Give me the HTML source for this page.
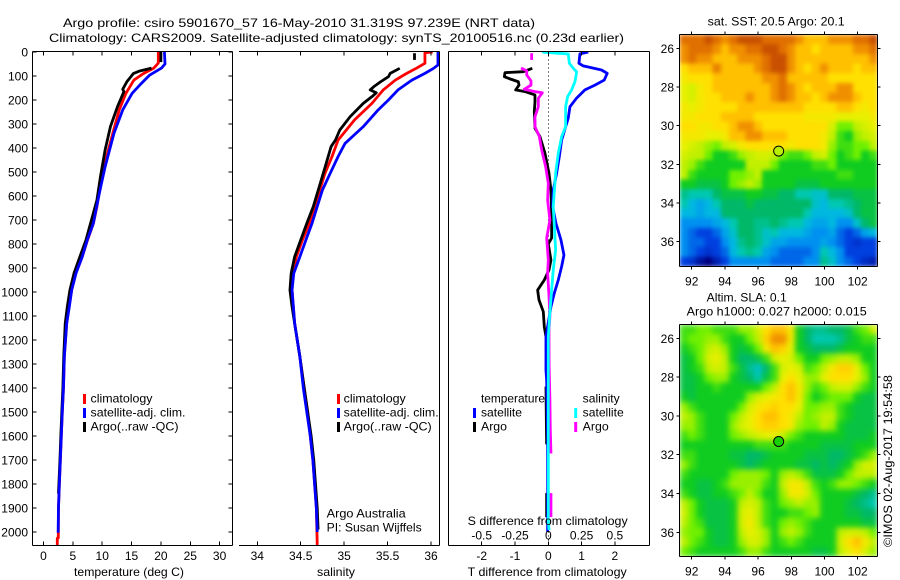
<!DOCTYPE html>
<html>
<head>
<meta charset="utf-8">
<title>Argo profile</title>
<style>
html,body{margin:0;padding:0;background:#fff;}
svg{display:block;}
text{font-family:"Liberation Sans",sans-serif;font-size:12px;fill:#000;}
</style>
</head>
<body>
<svg id="chart" xmlns="http://www.w3.org/2000/svg" width="900" height="580" viewBox="0 0 900 580"></svg>
<script>
const depthTicks = [0,100,200,300,400,500,600,700,800,900,1000,1100,1200,1300,1400,1500,1600,1700,1800,1900,2000];
const tempTicks = [0,5,10,15,20,25,30];
const salTicks = [34,34.5,35,35.5,36];
const salTickLabels = ['34','34.5','35','35.5','36'];
const tDiffTicks = [-2,-1,0,1,2];
const sDiffTicks = [-0.5,-0.25,0,0.25,0.5];
const sDiffTickLabels = ['-0.5','-0.25','0','0.25','0.5'];
const lonTicks = [92,94,96,98,100,102];
const latTicks = [26,28,30,32,34,36];

const tempClimDepth = [0,46,67,90,117,172,241,339,478,575,644,714,783,853,922,992,1061,1131,1269,1400,1500,1600,1700,1800,1900,2025,2026,2054];
const tempClimValue = [19.56,19.56,18.8,17,15.4,14.05,12.9,11.8,10.3,9.55,9.1,8.5,7.5,6.6,5.5,4.8,4.35,3.95,3.55,3.4,3.2,3.03,2.87,2.7,2.55,2.52,2.35,2.35];
const tempSatDepth = [0,50,67,96,130,172,241,339,478,575,644,714,783,853,922,992,1061,1131,1269,1400,1500,1600,1700,1800,1900,2003];
const tempSatValue = [20.6,20.7,20.1,18.1,16.7,15.1,13.5,12,10.5,9.63,9.06,8.49,7.46,6.6,5.54,4.8,4.4,3.95,3.55,3.4,3.2,3.03,2.87,2.7,2.55,2.5];
const tempArgoDepth = [0,42,null,67,79,90,124,155,165,228,311,408,520,617,783,853,922,992,1061,1131,1269,1400,1500,1600,1700,1840];
const tempArgoValue = [20,20,null,18.4,16.4,15.3,14.2,13.5,13.7,12.6,11.4,10.5,9.7,9.1,7.24,6.2,5.2,4.5,4.06,3.7,3.45,3.3,3.12,2.95,2.8,2.55];

const salClimDepth = [0,3,47,68,89,117,158,214,283,367,436,505,644,714,783,853,922,992,1061,1131,1200,1269,1400,1500,1600,1700,1800,1900,2054];
const salClimValue = [36.02,35.93,35.93,35.83,35.72,35.59,35.45,35.32,35.12,34.93,34.86,34.78,34.66,34.6,34.52,34.45,34.41,34.4,34.415,34.43,34.46,34.49,34.54,34.58,34.61,34.64,34.66,34.68,34.69];
const salSatDepth = [0,54,68,89,117,158,200,242,311,381,436,505,575,644,714,783,853,922,992,1061,1131,1200,1269,1400,1500,1600,1700,1800,1900,2000];
const salSatValue = [36.08,36.08,36.03,35.93,35.78,35.62,35.51,35.39,35.22,35.01,34.93,34.84,34.75,34.69,34.63,34.56,34.49,34.42,34.4,34.415,34.43,34.46,34.49,34.53,34.57,34.61,34.64,34.66,34.68,34.69];
const salArgoDepth = [5,33,null,68,89,103,124,145,158,170,186,214,269,325,367,394,505,644,714,783,853,922,992,1061,1131,1269,1400,1500,1600,1700,1800,1900,1990];
const salArgoValue = [35.81,35.81,null,35.64,35.53,35.51,35.42,35.34,35.3,35.37,35.32,35.22,35.07,34.95,34.9,34.85,34.76,34.645,34.57,34.5,34.43,34.39,34.376,34.4,34.43,34.49,34.54,34.58,34.62,34.65,34.67,34.69,34.7];

const tDiffSatDepth = [0,8,47,58,75,89,117,138,158,192,228,275,367,436,505,575,644,714,783,846,894,950,1005,1061,1186,1325,1367,1600,2000];
const tDiffSatValue = [1.2,0.95,0.92,1.05,1.6,1.77,1.68,1.4,1.1,0.85,0.65,0.6,0.4,0.33,0.25,0.15,0.13,0.23,0.38,0.47,0.4,0.3,0.18,0.08,-0.07,-0.07,-0.05,-0.02,-0.02];
const tDiffArgoDepth = [68,82,86,103,112,124,138,158,165,179,207,249,318,353,422,505,575,672,728,775,800,867,908,950,992,1033,1082,1145,1186,null,1394,1635,null,1838,1938];
const tDiffArgoValue = [-0.48,-0.75,-1.3,-1.32,-1.15,-0.9,-0.88,-0.98,-0.7,-0.4,-0.4,-0.42,-0.4,-0.25,-0.1,0.02,0.08,0.1,0.1,0.1,0,0.08,0.02,-0.12,-0.32,-0.28,-0.15,-0.12,-0.07,null,-0.07,-0.05,null,-0.05,-0.05];
const sDiffSatDepth = [0,1,8,47,68,83,124,158,186,228,311,353,422,505,644,775,825,908,992,1061,1186,1436,1950,1992];
const sDiffSatValue = [-0.037,-0.037,0.15,0.158,0.188,0.213,0.2,0.175,0.145,0.13,0.13,0.1,0.075,0.055,0.037,0.05,0.055,0.037,0.025,0.015,0,0,0,0.005];
const sDiffArgoDepth = [5,33,null,67,78,96,120,138,155,165,170,193,228,270,311,353,408,478,547,617,700,775,867,921,1015,1103,1158,1300,1450,1575,1673,null,1838,1938];
const sDiffArgoValue = [-0.125,-0.125,null,-0.205,-0.162,-0.162,-0.13,-0.13,-0.18,-0.1,-0.045,-0.075,-0.075,-0.1,-0.1,-0.067,-0.05,-0.02,0,-0.005,0.012,-0.012,0,-0.005,0.005,0.012,0.005,0.006,0.012,0.015,0.02,null,0.02,0.02];

const sstRows = [
[13,13,13,14,13,12,13,14,14,14,13,13,13,13,12,11,11,11,12,12,12,13,13,14],
[12,13,13,13,12,11,12,12,13,13,14,14,13,12,11,11,10,11,11,11,11,12,12,13],
[12,13,12,12,11,11,11,12,12,12,13,14,14.5,12,11,11,11,11,11,11,11,11,11,12],
[10,11,11,11,12.5,11,11,11,11,12,13,14,14,12,11,10,11,12,11,11,11,10,11,11],
[9.5,10,10,10,11,11,11,11,11,11,12,12,13,11,11,11,11,11,10,10,10,10,10,10],
[9,8.5,9.5,10,11,11,11,11,11,11,11,12,13,12,11,10,11,11,11,12,12,10,10,10],
[9,8.5,9.5,10,10,11,11,11,12,11,11,12,13,12,11,11,10,11,12,12,12,11,10,10],
[9.5,9,9.5,10,10,10,10,11,11,11,11,11,11,11,11,10,10,10,10,11,11,10,9.5,10],
[9.5,9.5,10,10,10,11,11,11,11,10,10,10,10,10,10,9.5,9.5,9.5,9.5,9,9,9,9,9.5],
[10,10,9.5,9.5,10,10,11,12,12,11,10,10,10,10,10,10,10,10,8.5,7,7,8,8.5,9],
[9.5,9.5,9.5,9,9,9.5,11,11,12,12,11,11,11,10,10,10,10,9.5,8,6.5,6,7.5,8,8.5],
[9,8.5,8,7.5,7,8,8.5,9.5,10,10,10,10,10,9.5,10,10,10,9.5,7.5,6.5,6.5,7,7,8],
[8.5,8,8,7,6,6,6.5,7.5,8,8.5,8.5,8,7,6.5,6.5,7,8,8.5,7,6,6.5,7,6,6.5],
[8,7.5,6.5,6,6,6,6,6,8,8,8,7,6,6,6,6,6.5,6.5,7,6,6,6,6,6],
[8,6.5,6,6,6,6,7,7,7.5,8,6,6,6,6,6,6,6,6,6,6.5,6.5,6,6,6],
[6,6,5.5,5.5,5.5,6,7,7.5,8,7.5,6,6,6,6,5.5,5.5,5.5,6,6,6,6,6,6,6],
[4.5,4,4,4,5,5.5,5.5,5.5,6,6,5.5,5.5,5,5,4,4,3.5,3.5,5,5,5,5.5,5.5,5.5],
[4,3,2.5,3,4,5,5,5,5.5,5,5,5,5,5,5,5,3.5,3,4,4,4.5,5,5.5,5.5],
[3,3,2.5,3,3,5,5,5,5,5,5,5,5,5,5,4,3,3,3,3,3.5,5,5.5,5.5],
[2,2,2,2,2.5,3,4,5,5,4.5,4.5,5,4.5,4,4,3,2.5,2.5,3,2,2,3.5,5,5.5],
[2,1.5,1,1,1.5,2.5,3.5,5,5,4.5,3.5,4,3,3,3,2.5,2,2,2.5,1.5,1,1.5,2.5,3],
[2,1.5,1.5,1,1,2,3,4.5,5,4.5,3.5,2.5,2.5,2,2,2,2,2.5,2,1.5,1,0.8,1,1],
[2,1.5,1,0.8,1,1.5,3,4,4.5,4,2.5,2,1.5,1.5,1.5,1.5,2,4,3,2,1,1,1,1],
[1,0.8,0.3,0,0.5,1,2,2,2,2,2,1.5,1.5,1.5,1.5,2,2,4.5,3.5,2,1.5,1,0.7,0.5]
];
const slaRows = [
[6.5,6.5,7,7,6.5,6.5,6.5,7.5,7.5,8.5,10,11,11,9.5,6,5,4.5,4.5,5,5,5.5,6.5,7,8.5],
[6.5,7,7,7.5,7.5,6.5,6,6,7,8,10.5,12,12,9.5,6,5,4,4,4,4.5,5.5,6,6.5,6.5],
[6,6.5,7,8,8.5,7.5,6,5.5,6,7,9.5,11,10.5,9,6,5.5,5,5,5,5.5,6,6,6,6],
[5.5,6,7,8.5,9,8,6,5,5,5.5,6.5,8.5,9,8.5,7,6,6,7,7.5,8,8,7.5,6,6],
[5.5,6,6.5,8,8.5,8,6.5,5.5,4.5,3.5,5,6.5,8.5,9,8.5,6.5,7,8,9.5,10.5,10.5,9,7,6],
[5.5,5.5,6,7,7.5,7.5,6,5.5,5,4,5.5,6.5,9,10,9,7.5,7.5,9,10,10,10,9,7.5,6],
[5.5,5.5,6,6,6.5,6,6,6,6,6,7,8,10,11,9.5,7.5,6.5,7,8,8.5,8.5,7.5,6.5,6],
[6,5.5,6,6,6,6,6,6,7.5,8.5,9,9.5,10,11,9.5,7,6,6.5,7,7,7,6,5.5,5.5],
[7.5,6.5,6,6,6,6,6,7,8.5,9.5,10,10.5,10,10,9,7,7,7.5,7.5,6.5,6,5.5,5.5,5.5],
[8,7.5,6.5,6,6,6,7,8,9,10,11,11,10,9.5,8,7,7.5,8,8,6.5,6,5.5,5.5,5.5],
[7.5,7.5,6.5,6,6,6,7.5,8.5,9,10,10.5,10.5,10,9.5,7.5,7,7,8,7.5,6,5.5,5.5,5.5,5.5],
[6.5,7,6.5,6,6,6,7,7.5,8,8.5,9,9,8,7,6.5,6,6,6,6,6,5.5,5.5,5.5,6],
[6,6,6,6,6,6,6,6,6,6.5,6.5,6.5,6.5,6,6,6,6,5.5,5.5,5.5,5.5,6,6,6],
[6.5,6.5,6,6,6,6,5.5,5.5,5,5,5.5,6,6,6,6,5.5,5.5,5.5,5,5,5.5,6,6.5,7.5],
[7.5,6.5,6,6,6,6,6,5.5,5,5.5,6,6,6,6,5.5,5.5,5,5.5,5,5.5,6,7.5,8.5,8.5],
[6.5,6,6,6,6,6,7,7.5,7.5,7.5,7,6,7.5,8,7.5,6.5,5.5,5.5,5.5,6,7,8,8,8],
[6,6,5.5,5.5,6,6.5,7.5,7.5,7.5,7.5,6.5,6,8,9.5,9.5,8,6.5,6,6.5,7.5,7.5,7,6.5,6],
[6.5,6,5.5,5.5,6,6,6.5,7,8,7,6,6,7.5,9.5,9.5,8.5,7,6,6,6,6,5.5,5,4.5],
[8,7,6,5.5,5.5,5.5,6,8,8.5,8,6.5,6,7,7.5,8,7.5,7.5,6,6,6,5.5,5,4.5,4],
[8.5,7,6,5.5,5.5,5.5,6,8.5,9,8,6.5,6,6,6.5,6.5,7,7.5,6,6,6,5.5,5.5,5,5],
[8,7,6.5,5.5,5.5,5.5,6,8.5,9.5,8,6.5,6,7,7.5,7,6.5,6,6,6,6,6,6,5.5,5.5],
[7.5,7,7,6,5.5,5.5,6,8,9,8.5,7.5,6,7.5,8,7.5,6.5,6,6,6,8,8.5,8.5,8,7],
[8,7,6.5,6,5.5,5.5,6,7.5,8.5,8.5,7.5,6,6.5,7,6.5,6,6,6,6,8.5,10,11,9.5,8],
[7,6.5,6,6,6,6,6,6.5,7.5,7.5,6.5,6,6,6,6,6,5.5,5.5,6,8,9,10,8.5,7.5]
];
const floatLon = 97.239;
const floatLat = 31.319;

const NS = 'http://www.w3.org/2000/svg';
const svg = document.getElementById('chart');
const colormap = ['#000080','#0040e0','#0090f0','#00b8e0','#00c8b0','#00b868','#10cc20','#70f000','#c0f000','#e8f000','#ffe000','#ffc000','#f09000','#e07000','#c85000'];

function mix(v){
  const i = Math.max(0, Math.min(colormap.length-2, Math.floor(v)));
  const f = Math.max(0, Math.min(1, v-i));
  const p = s => [1,3,5].map(k => parseInt(s.substr(k,2),16));
  const a = p(colormap[i]), b = p(colormap[i+1]);
  return 'rgb(' + a.map((c,k) => Math.round(c+(b[k]-c)*f)).join(',') + ')';
}
function make(tag, attrs, parent){
  const el = document.createElementNS(NS, tag);
  for (const k in attrs) el.setAttribute(k, attrs[k]);
  (parent || svg).appendChild(el);
  return el;
}
function group(name){
  const g = make('g', {});
  
  
  return g;
}
function label(parent, name, str, x, y, anchor, width){
  const t = make('text', {x:x, y:y, 'text-anchor':anchor || 'start'}, parent);
  if (width) { t.setAttribute('textLength', width); t.setAttribute('lengthAdjust', 'spacingAndGlyphs'); }
  t.textContent = str;
  
  
  return t;
}
function rule(parent, name, x1, y1, x2, y2){
  const l = make('line', {x1:x1, y1:y1, x2:x2, y2:y2, stroke:'#000', 'stroke-width':1, 'shape-rendering':'crispEdges'}, parent);
  
  
  return l;
}

const top0 = 51.5, bottom0 = 545.5;
const yD = d => 52 + d*0.24;
const xT = v => 43.5 + v*5.87;
const xS = v => 257.3 + (v-34)*86.85;
const xDT = v => 548.3 + v*33.3;
const xDS = v => 548.3 + v*133.2;
const xLon = v => 691.7 + (v-92)*16.6;

const defs = make('defs', {});
[['clip-t',32,52,200,493],['clip-s',239,52,200,493],['clip-d',448,52,201,493]].forEach(c => {
  const cp = make('clipPath', {id:c[0]}, defs);
  make('rect', {x:c[1], y:c[2], width:c[3], height:c[4]}, cp);
});

function profile(parent, name, depths, values, xf, color, clip){
  let pts = [];
  const flush = () => {
    if (pts.length) {
      const pl = make('polyline', {points:pts.join(' '), fill:'none', stroke:color, 'stroke-width':2.8, 'stroke-linejoin':'round', 'clip-path':'url(#'+clip+')'}, parent);
      
      
    }
    pts = [];
  };
  depths.forEach((d,i) => {
    if (d === null || values[i] === null) { flush(); return; }
    pts.push(xf(values[i]).toFixed(2) + ',' + yD(d).toFixed(2));
  });
  flush();
}

/* titles */
const titles = group('figure-title');
label(titles, 'title-line-1', 'Argo profile: csiro 5901670_57 16-May-2010 31.319S 97.239E (NRT data)', 63, 27, 'start', 472);
label(titles, 'title-line-2', 'Climatology: CARS2009. Satellite-adjusted climatology: synTS_20100516.nc (0.23d earlier)', 49, 42, 'start', 575);

/* temperature panel */
const tp = group('temperature-panel');
profile(tp, 'temperature-climatology-line', tempClimDepth, tempClimValue, xT, '#ff0000', 'clip-t');
profile(tp, 'temperature-argo-line', tempArgoDepth, tempArgoValue, xT, '#000000', 'clip-t');
profile(tp, 'temperature-satellite-line', tempSatDepth, tempSatValue, xT, '#0000ff', 'clip-t');
rule(tp, 'temperature-axis-left', 32.5, top0, 32.5, bottom0);
rule(tp, 'temperature-axis-right', 232.5, top0, 232.5, bottom0);
rule(tp, 'temperature-axis-top', 32.5, top0, 232.5, top0);
rule(tp, 'temperature-axis-bottom', 32.5, bottom0, 232.5, bottom0);
depthTicks.forEach(d => {
  rule(tp, 'depth-tick-left', 32.5, yD(d), 36.5, yD(d));
  rule(tp, 'depth-tick-right', 228.5, yD(d), 232.5, yD(d));
  label(tp, 'depth-tick-label', String(d), 28, yD(d)+4.5, 'end');
});
tempTicks.forEach(v => {
  rule(tp, 'temperature-tick-top', xT(v), top0, xT(v), top0+4);
  rule(tp, 'temperature-tick-bottom', xT(v), bottom0-4, xT(v), bottom0);
  label(tp, 'temperature-tick-label', String(v), xT(v), 560, 'middle');
});
label(tp, 'temperature-axis-title', 'temperature (deg C)', 74, 576, 'start', 110);

function legendBar(parent, name, x, y, color){
  const r = make('rect', {x:x-1.5, y:y, width:3, height:10, fill:color}, parent);
  
  
}
const lt = group('temperature-legend');
legendBar(lt, 'legend-swatch-climatology', 84.5, 394, '#ff0000');
legendBar(lt, 'legend-swatch-satellite', 84.5, 408, '#0000ff');
legendBar(lt, 'legend-swatch-argo', 84.5, 422, '#000000');
label(lt, 'legend-label-climatology', 'climatology', 90.5, 402.7, 'start', 62);
label(lt, 'legend-label-satellite', 'satellite-adj. clim.', 90.5, 416.7, 'start', 95);
label(lt, 'legend-label-argo', 'Argo(..raw -QC)', 90.5, 430.7, 'start', 88);

/* salinity panel */
const sp = group('salinity-panel');
profile(sp, 'salinity-climatology-line', salClimDepth, salClimValue, xS, '#ff0000', 'clip-s');
profile(sp, 'salinity-argo-line', salArgoDepth, salArgoValue, xS, '#000000', 'clip-s');
profile(sp, 'salinity-satellite-line', salSatDepth, salSatValue, xS, '#0000ff', 'clip-s');
rule(sp, 'salinity-axis-right', 439.5, top0, 439.5, bottom0);
rule(sp, 'salinity-axis-top', 239, top0, 439.5, top0);
rule(sp, 'salinity-axis-bottom', 239, bottom0, 439.5, bottom0);
salTicks.forEach((v,i) => {
  rule(sp, 'salinity-tick-top', xS(v), top0, xS(v), top0+4);
  rule(sp, 'salinity-tick-bottom', xS(v), bottom0-4, xS(v), bottom0);
  label(sp, 'salinity-tick-label', salTickLabels[i], xS(v), 560, 'middle');
});
label(sp, 'salinity-axis-title', 'salinity', 336, 576, 'middle', 38);
const ls = group('salinity-legend');
legendBar(ls, 'legend-swatch-climatology', 338.5, 394, '#ff0000');
legendBar(ls, 'legend-swatch-satellite', 338.5, 408, '#0000ff');
legendBar(ls, 'legend-swatch-argo', 338.5, 422, '#000000');
label(ls, 'legend-label-climatology', 'climatology', 343.7, 402.7, 'start', 62);
label(ls, 'legend-label-satellite', 'satellite-adj. clim.', 343.7, 416.7, 'start', 95);
label(ls, 'legend-label-argo', 'Argo(..raw -QC)', 343.7, 430.7, 'start', 88);
label(sp, 'argo-australia-note', 'Argo Australia', 326.7, 517.7, 'start', 79);
label(sp, 'principal-investigator-note', 'PI: Susan Wijffels', 326.7, 531.7, 'start', 95);

/* difference panel */
const dp = group('difference-panel');
const zero = make('line', {x1:548.5, y1:top0, x2:548.5, y2:bottom0, stroke:'#000', 'stroke-width':1, 'stroke-dasharray':'1 3', 'shape-rendering':'crispEdges'}, dp);


profile(dp, 'temperature-difference-argo-line', tDiffArgoDepth, tDiffArgoValue, xDT, '#000000', 'clip-d');
profile(dp, 'temperature-difference-satellite-line', tDiffSatDepth, tDiffSatValue, xDT, '#0000ff', 'clip-d');
profile(dp, 'salinity-difference-argo-line', sDiffArgoDepth, sDiffArgoValue, xDS, '#ff00ff', 'clip-d');
profile(dp, 'salinity-difference-satellite-line', sDiffSatDepth, sDiffSatValue, xDS, '#00ffff', 'clip-d');
rule(dp, 'difference-axis-left', 448.5, top0, 448.5, bottom0);
rule(dp, 'difference-axis-right', 649.5, top0, 649.5, bottom0);
rule(dp, 'difference-axis-top', 448.5, top0, 649.5, top0);
rule(dp, 'difference-axis-bottom', 448.5, bottom0, 649.5, bottom0);
tDiffTicks.forEach(v => {
  rule(dp, 'temperature-difference-tick-top', xDT(v), top0, xDT(v), top0+4);
  rule(dp, 'temperature-difference-tick-bottom', xDT(v), bottom0-4, xDT(v), bottom0);
  label(dp, 'temperature-difference-tick-label', String(v), xDT(v), 560, 'middle');
});
sDiffTicks.forEach((v,i) => {
  label(dp, 'salinity-difference-tick-label', sDiffTickLabels[i], xDS(v), 539.3, 'middle');
});
label(dp, 'salinity-difference-axis-title', 'S difference from climatology', 467.7, 525, 'start', 160);
label(dp, 'temperature-difference-axis-title', 'T difference from climatology', 467.7, 576, 'start', 159);
const ld = group('difference-legend');
label(ld, 'legend-heading-temperature', 'temperature', 481, 402.7, 'start', 64);
label(ld, 'legend-heading-salinity', 'salinity', 582.7, 402.7, 'start', 37);
legendBar(ld, 'legend-swatch-temperature-satellite', 474.5, 408, '#0000ff');
legendBar(ld, 'legend-swatch-temperature-argo', 474.5, 422, '#000000');
legendBar(ld, 'legend-swatch-salinity-satellite', 575.7, 408, '#00ffff');
legendBar(ld, 'legend-swatch-salinity-argo', 575.7, 422, '#ff00ff');
label(ld, 'legend-label-temperature-satellite', 'satellite', 481, 416.7, 'start', 41);
label(ld, 'legend-label-temperature-argo', 'Argo', 481, 430.7, 'start', 26);
label(ld, 'legend-label-salinity-satellite', 'satellite', 582.7, 416.7, 'start', 41);
label(ld, 'legend-label-salinity-argo', 'Argo', 582.7, 430.7, 'start', 26);

/* maps */
function drawMap(name, rows, mapTop, mapBottom, lat26, latScale, markerFill, blur){
  const left = 679.5, right = 877.5;
  const g = group(name);
  const filterId = name + '-smooth';
  const flt = make('filter', {id:filterId, filterUnits:'userSpaceOnUse', x:left, y:mapTop, width:right-left, height:mapBottom-mapTop, 'color-interpolation-filters':'sRGB'}, defs);
  make('feGaussianBlur', {stdDeviation:blur, edgeMode:'duplicate'}, flt);
  const cells = make('g', {filter:'url(#'+filterId+')'}, g);
  
  
  const cw = (right-left)/rows[0].length, ch = (mapBottom-mapTop)/rows.length;
  rows.forEach((row,r) => row.forEach((v,c) => {
    const cell = make('rect', {x:(left+c*cw).toFixed(2), y:(mapTop+r*ch).toFixed(2), width:(cw+0.6).toFixed(2), height:(ch+0.6).toFixed(2), fill:mix(v), 'shape-rendering':'crispEdges'}, cells);
    
    
  }));
  rule(g, 'map-frame-left', left, mapTop, left, mapBottom);
  rule(g, 'map-frame-right', right, mapTop, right, mapBottom);
  rule(g, 'map-frame-top', left, mapTop, right, mapTop);
  rule(g, 'map-frame-bottom', left, mapBottom, right, mapBottom);
  const yLat = v => lat26 + (v-26)*latScale;
  lonTicks.forEach(v => {
    rule(g, 'longitude-tick-top', xLon(v), mapTop-3, xLon(v), mapTop);
    rule(g, 'longitude-tick-bottom', xLon(v), mapBottom, xLon(v), mapBottom+3);
    label(g, 'longitude-tick-label', String(v), xLon(v), mapBottom+19, 'middle');
  });
  latTicks.forEach(v => {
    rule(g, 'latitude-tick-left', left-3, yLat(v), left, yLat(v));
    rule(g, 'latitude-tick-right', right, yLat(v), right+3, yLat(v));
    label(g, 'latitude-tick-label', String(v), 674, yLat(v)+4.5, 'end');
  });
  const m = make('circle', {cx:xLon(floatLon), cy:yLat(floatLat), r:5, fill:markerFill, stroke:'#000', 'stroke-width':1}, g);
  
  
}
drawMap('sst-map', sstRows, 34.5, 266.5, 48.3, 19.33, '#b8f000', 2);
drawMap('sla-map', slaRows, 324.5, 556.5, 338.3, 19.4, '#18d000', 3);
const mt = group('map-titles');
label(mt, 'sst-map-title', 'sat. SST: 20.5 Argo: 20.1', 707.7, 25.7, 'start', 137);
label(mt, 'sla-map-title-line-1', 'Altim. SLA: 0.1', 706.7, 301.7, 'start', 80);
label(mt, 'sla-map-title-line-2', 'Argo h1000: 0.027 h2000: 0.015', 686.7, 315.3, 'start', 180);
const credit = label(mt, 'imos-timestamp', '©IMOS 02-Aug-2017 19:54:58', 0, 0, 'start', 172);
credit.setAttribute('transform', 'translate(892,547) rotate(-90)');
</script>
</body>
</html>
